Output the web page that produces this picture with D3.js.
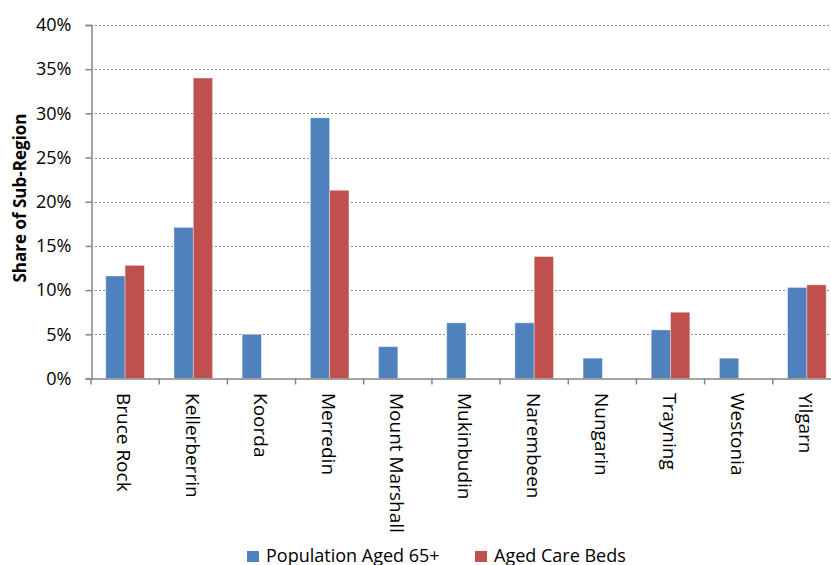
<!DOCTYPE html>
<html>
<head>
<meta charset="utf-8">
<script src="https://cdn.jsdelivr.net/npm/d3@7"></script>
<style>
  html, body { margin: 0; padding: 0; background: #fff; overflow: hidden; }
  svg { display: block; }
  text { font-family: "Open Sans", "Noto Sans", sans-serif; fill: #000; }
</style>
</head>
<body>
<svg id="chart" width="831" height="565"></svg>
<script>
// Share of sub-region, by local government area
const categories = ["Bruce Rock", "Kellerberrin", "Koorda", "Merredin", "Mount Marshall",
  "Mukinbudin", "Narembeen", "Nungarin", "Trayning", "Westonia", "Yilgarn"];
const population65 = [11.6, 17.1, 5.0, 29.5, 3.6, 6.3, 6.3, 2.3, 5.5, 2.3, 10.3];
const agedCareBeds = [12.8, 34.0, 0, 21.3, 0, 0, 13.8, 0, 7.5, 0, 10.6];
const seriesNames = ["Population Aged 65+", "Aged Care Beds"];
const seriesColors = ["#4F81BD", "#C0504D"];
const yTicks = [0, 5, 10, 15, 20, 25, 30, 35, 40];

const svg = d3.select("#chart");
const plotLeft = 91, plotRight = 841, plotTop = 25, plotBottom = 378.5;

const x = d3.scaleBand().domain(categories).range([plotLeft, plotRight]);
const y = d3.scaleLinear().domain([0, 40]).range([plotBottom, plotTop]);
const barW = x.bandwidth() * 0.283;
const inner = d3.scaleBand().domain(seriesNames)
  .range([x.bandwidth() / 2 - barW, x.bandwidth() / 2 + barW]);

// dashed horizontal gridlines
svg.append("g").selectAll("line")
  .data(yTicks.filter(t => t > 0))
  .join("line")
  .attr("x1", plotLeft).attr("x2", plotRight)
  .attr("y1", d => Math.round(y(d)) + 0.5).attr("y2", d => Math.round(y(d)) + 0.5)
  .attr("stroke", "#8c8c8c").attr("stroke-width", 1)
  .attr("stroke-dasharray", "2,2");

// bars
const rows = categories.map((c, i) => ({ cat: c, vals: [population65[i], agedCareBeds[i]] }));
const groups = svg.append("g").selectAll("g")
  .data(rows).join("g")
  .attr("transform", d => `translate(${x(d.cat)},0)`);
groups.selectAll("rect")
  .data(d => d.vals.map((v, j) => ({ v, name: seriesNames[j], color: seriesColors[j] })).filter(d => d.v > 0))
  .join("rect")
  .attr("x", d => inner(d.name))
  .attr("width", inner.bandwidth())
  .attr("y", d => y(d.v))
  .attr("height", d => y(0) - y(d.v))
  .attr("fill", d => d.color)
  .attr("stroke", "rgba(255,255,255,0.45)")
  .attr("stroke-width", 0.8);

// y axis
const yAxis = d3.axisLeft(y).tickValues(yTicks).tickFormat(d => d + "%").tickSize(6).tickPadding(14);
const gy = svg.append("g").attr("transform", `translate(${plotLeft + 0.5},0)`).call(yAxis);
gy.select(".domain").attr("stroke", "#868686").attr("stroke-width", 1.5);
gy.selectAll(".tick line").attr("stroke", "#868686").attr("stroke-width", 1.5);
gy.selectAll(".tick text").attr("font-size", 18).attr("font-family", "Open Sans");

// x axis
const xAxis = d3.axisBottom(x).tickSize(0).tickFormat("");
const gx = svg.append("g").attr("transform", `translate(0,${plotBottom})`).call(xAxis);
gx.select(".domain").attr("stroke", "#868686").attr("stroke-width", 1.5);
gx.selectAll(".tick").remove();
// category boundary ticks
svg.append("g").selectAll("line")
  .data(categories.map(c => x(c)).concat([plotRight]))
  .join("line")
  .attr("x1", d => d).attr("x2", d => d)
  .attr("y1", plotBottom).attr("y2", plotBottom + 6)
  .attr("stroke", "#868686").attr("stroke-width", 1.5);

// rotated category labels
svg.append("g").selectAll("text")
  .data(categories).join("text")
  .attr("transform", d => `translate(${x(d) + x.bandwidth() / 2 - 1},393) rotate(90)`)
  .attr("dy", "0.35em")
  .attr("font-size", 19)
  .text(d => d);

// y axis title
svg.append("text")
  .attr("transform", "translate(20,198) rotate(-90)")
  .attr("text-anchor", "middle").attr("dy", "0.35em")
  .attr("font-size", 17).attr("font-weight", "bold")
  .text("Share of Sub-Region");

// legend
const legendX = [247, 475];
const legend = svg.append("g").selectAll("g")
  .data(seriesNames).join("g")
  .attr("transform", (d, i) => `translate(${legendX[i]},551)`);
legend.append("rect").attr("width", 12).attr("height", 11)
  .attr("fill", (d, i) => seriesColors[i]);
legend.append("text").attr("x", 19).attr("y", 5).attr("dy", "0.35em")
  .attr("font-size", 18).text(d => d);
</script>
</body>
</html>
